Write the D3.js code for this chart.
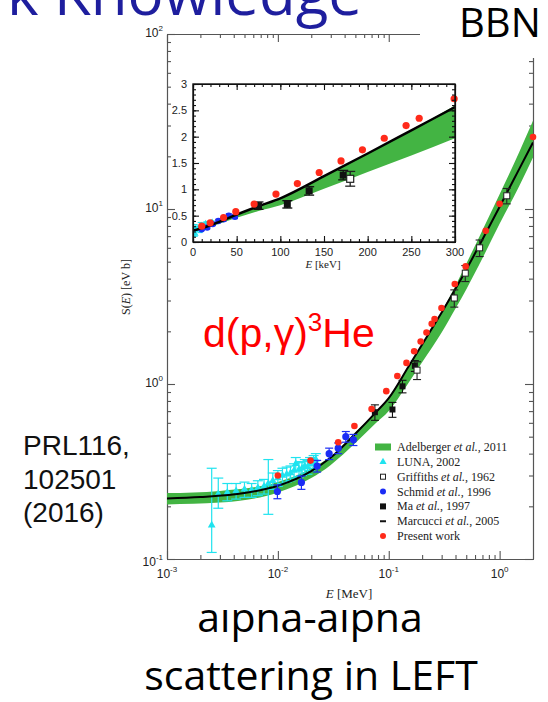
<!DOCTYPE html>
<html><head><meta charset="utf-8">
<script src="https://cdn.jsdelivr.net/npm/d3@7/dist/d3.min.js"></script>
<style>body{margin:0;background:#fff;} svg{display:block}</style>
</head><body>
<svg id="c" width="548" height="702"></svg>
<script>
// ---------------- DATA ----------------
// Marcucci et al. 2005 (black line), E in MeV, S in eV b
const lineE = [0.001,0.002,0.005,0.01,0.02,0.03,0.05,0.075,0.1,0.15,0.2,0.25,0.3,0.4,0.5,0.7,1.0,1.5,2.0];
const lineS = [0.222,0.226,0.238,0.262,0.318,0.38,0.52,0.68,0.83,1.25,1.68,2.12,2.56,3.5,4.5,6.7,10.3,16.9,24.0];
// Adelberger et al. 2011 (green band)
const bandE  = [0.001,0.003,0.01,0.02,0.03,0.05,0.075,0.1,0.15,0.2,0.3,0.4,0.5,0.7,1.0,1.5,2.0];
const bandLo = [0.205,0.21,0.24,0.29,0.345,0.46,0.59,0.70,1.01,1.33,1.97,2.70,3.47,5.23,8.24,13.5,19.7];
const bandHi = [0.238,0.245,0.275,0.33,0.385,0.53,0.68,0.84,1.26,1.69,2.59,3.64,4.86,7.57,12.15,21.1,31.9];
// Present work (red)
const redE = [0.010,0.0197,0.035,0.049,0.070,0.095,0.1195,0.1445,0.1695,0.194,0.219,0.244,0.259,0.299,0.394,0.494,0.75,1.0,2.0];
const redS = [0.30,0.365,0.465,0.575,0.72,0.91,1.11,1.32,1.54,1.75,1.97,2.21,2.35,2.72,3.73,4.7,7.5,10.7,25.8];
// LUNA 2002 (cyan)
const lunaE  = [0.00253,0.0029,0.0035,0.0042,0.0050,0.0058,0.0066,0.0075,0.0082,0.0090,0.0100,0.0110,0.0120,0.0130,0.0140,0.0145,0.0155,0.0165,0.0175,0.0185,0.0195,0.0210,0.0220];
const lunaS  = [0.156,0.235,0.24,0.245,0.25,0.248,0.255,0.26,0.27,0.28,0.29,0.30,0.305,0.31,0.32,0.35,0.325,0.33,0.34,0.335,0.35,0.36,0.37];
const lunaLo = [0.109,0.195,0.215,0.22,0.225,0.225,0.23,0.235,0.18,0.25,0.26,0.27,0.275,0.28,0.29,0.32,0.295,0.30,0.31,0.305,0.32,0.33,0.34];
const lunaHi = [0.33,0.29,0.27,0.27,0.275,0.27,0.28,0.285,0.37,0.31,0.32,0.33,0.335,0.34,0.35,0.38,0.355,0.36,0.37,0.365,0.38,0.39,0.40];
// Griffiths et al. 1962 (open squares)
const grifE = [0.18,0.39,0.49,0.66,1.16];
const grifS = [1.2,3.1,4.3,6.0,11.9];
const grifErr = [0.14,0.35,0.45,0.65,1.2];
// Schmid et al. 1996 (blue)
const schE = [0.0099,0.0163,0.0226,0.029,0.035,0.041,0.048];
const schS = [0.243,0.274,0.34,0.40,0.43,0.50,0.48];
const schErr = [0.022,0.024,0.026,0.03,0.03,0.035,0.035];
// Ma et al. 1997 (black squares)
const maE = [0.075,0.108,0.133,0.172];
const maS = [0.69,0.715,0.97,1.27];
const maErr = [0.07,0.07,0.08,0.09];
// Tick labels
const xExp = [-3,-2,-1,0];
const yExp = [-1,0,1,2];
const insetXTicks = [0,50,100,150,200,250,300];
const insetYTicks = [0,0.5,1,1.5,2,2.5,3];
const legendItems = [
  ["band","Adelberger ","et al.",", 2011"],
  ["tri","LUNA, 2002","",""],
  ["osq","Griffiths ","et al.",", 1962"],
  ["blue","Schmid ","et al.",", 1996"],
  ["bsq","Ma ","et al.",", 1997"],
  ["dash","Marcucci ","et al.",", 2005"],
  ["red","Present work","",""]
];

// ---------------- DRAW ----------------
const svg = d3.select("#c");
const SLIDE = "'Open Sans', 'Liberation Sans', sans-serif";
const SERIF = "'Liberation Serif', 'DejaVu Serif', serif";
const SANS = "'Liberation Sans', Arial, sans-serif";
const GREEN = "#43b443", CYAN = "#1fe3ef", BLUE = "#1b2cf5", RED = "#ff2a1a";

// slide text beneath chart image
svg.append("text").attr("x",310).attr("y",632).attr("text-anchor","middle")
  .style("font-family",SLIDE).style("font-size","41px").attr("fill","#000").text("alpha-alpha");
svg.append("text").attr("x",311).attr("y",690).attr("text-anchor","middle")
  .style("font-family",SLIDE).style("font-size","41px").attr("fill","#000").text("scattering in LEFT");

// chart image background
svg.append("rect").attr("x",118).attr("y",22).attr("width",430).attr("height",588).attr("fill","#fff");

// ---- main plot ----
const X = d3.scaleLog().domain([1e-3,2]).range([167,533]);
const Y = d3.scaleLog().domain([0.1,100]).range([559,34]);
const defs = svg.append("defs");
defs.append("clipPath").attr("id","mclip").append("rect")
  .attr("x",167).attr("y",34).attr("width",366).attr("height",525);

const minorX = [], minorY = [];
for (let d=-3; d<=0; d++) for (let k=2;k<=9;k++){ const v=k*Math.pow(10,d); if (v<2) minorX.push(v); }
for (let d=-1; d<=1; d++) for (let k=2;k<=9;k++){ minorY.push(k*Math.pow(10,d)); }
const majX = xExp.map(e=>Math.pow(10,e));
const majY = yExp.map(e=>Math.pow(10,e));

function styleAxis(g, col){ g.selectAll("path,line").attr("stroke",col).attr("stroke-width",1.1); g.selectAll("text").remove(); }
const AX = "#555";
[[d3.axisBottom,559,minorX,4],[d3.axisBottom,559,majX,8],[d3.axisTop,34,minorX,4],[d3.axisTop,34,majX,8]].forEach(([f,y,tv,s])=>{
  svg.append("g").attr("transform",`translate(0,${y})`).call(f(X).tickValues(tv).tickSize(-s).tickSizeOuter(0).tickFormat("")).call(g=>styleAxis(g,AX));
});
[[d3.axisLeft,167,minorY,4],[d3.axisLeft,167,majY,8],[d3.axisRight,533,minorY,4],[d3.axisRight,533,majY,8]].forEach(([f,x,tv,s])=>{
  svg.append("g").attr("transform",`translate(${x},0)`).call(f(Y).tickValues(tv).tickSize(-s).tickSizeOuter(0).tickFormat("")).call(g=>styleAxis(g,AX));
});

// tick labels
xExp.forEach(e=>{
  const t = svg.append("text").attr("x",X(Math.pow(10,e))).attr("y",578).attr("text-anchor","middle")
    .style("font-family",SANS).style("font-size","12px").attr("fill","#222");
  t.append("tspan").text("10");
  t.append("tspan").attr("dy",-6).style("font-size","8px").text(e);
});
yExp.forEach(e=>{
  const t = svg.append("text").attr("x",163).attr("y",Y(Math.pow(10,e))+ (e===-1?7:3)).attr("text-anchor","end")
    .style("font-family",SANS).style("font-size","12px").attr("fill","#222");
  t.append("tspan").text("10");
  t.append("tspan").attr("dy",-6).style("font-size","8px").text(e);
});
// axis titles
{
  const t = svg.append("text").attr("x",349).attr("y",598).attr("text-anchor","middle")
    .style("font-family",SERIF).style("font-size","13px").attr("fill","#222");
  t.append("tspan").style("font-style","italic").text("E");
  t.append("tspan").text(" [MeV]");
  const s = svg.append("text").attr("transform","translate(130,287) rotate(-90)").attr("text-anchor","middle")
    .style("font-family",SERIF).style("font-size","12px").attr("fill","#222");
  s.append("tspan").text("S(");
  s.append("tspan").style("font-style","italic").text("E");
  s.append("tspan").text(") [eV b]");
}

const mainG = svg.append("g").attr("clip-path","url(#mclip)");
const bandData = bandE.map((e,i)=>({e,lo:bandLo[i],hi:bandHi[i]}));
const lineData = lineE.map((e,i)=>({e,s:lineS[i]}));
mainG.append("path").datum(bandData).attr("fill",GREEN)
  .attr("d",d3.area().x(d=>X(d.e)).y0(d=>Y(d.lo)).y1(d=>Y(d.hi)).curve(d3.curveMonotoneX));

function errbars(g, xs, ys, lo, hi, xf, yf, col, cap, w){
  xs.forEach((e,i)=>{
    const x=xf(e), y0=yf(lo[i]), y1=yf(hi[i]);
    g.append("line").attr("x1",x).attr("x2",x).attr("y1",y0).attr("y2",y1).attr("stroke",col).attr("stroke-width",w);
    [y0,y1].forEach(y=>g.append("line").attr("x1",x-cap).attr("x2",x+cap).attr("y1",y).attr("y2",y).attr("stroke",col).attr("stroke-width",w));
  });
}
// LUNA
errbars(mainG, lunaE, lunaS, lunaLo, lunaHi, X, Y, CYAN, 5, 1.2);
const tri = d3.symbol().type(d3.symbolTriangle).size(26);
lunaE.forEach((e,i)=>mainG.append("path").attr("d",tri).attr("transform",`translate(${X(e)},${Y(lunaS[i])})`).attr("fill",CYAN));

// line
const mainLine = d3.line().x(d=>X(d.e)).y(d=>Y(d.s)).curve(d3.curveMonotoneX);
mainG.append("path").datum(lineData).attr("fill","none").attr("stroke","#000").attr("stroke-width",2).attr("d",mainLine);

// Schmid
errbars(svg, schE, schS, schS.map((s,i)=>s-schErr[i]), schS.map((s,i)=>s+schErr[i]), X, Y, BLUE, 4, 1.2);
schE.forEach((e,i)=>svg.append("circle").attr("cx",X(e)).attr("cy",Y(schS[i])).attr("r",3.6).attr("fill",BLUE));
// Ma
errbars(svg, maE, maS, maS.map((s,i)=>s-maErr[i]), maS.map((s,i)=>s+maErr[i]), X, Y, "#111", 4, 1.1);
maE.forEach((e,i)=>svg.append("rect").attr("x",X(e)-3).attr("y",Y(maS[i])-3).attr("width",6).attr("height",6).attr("fill","#111"));
// Griffiths
errbars(svg, grifE, grifS, grifS.map((s,i)=>s-grifErr[i]), grifS.map((s,i)=>s+grifErr[i]), X, Y, "#222", 4, 1.1);
grifE.forEach((e,i)=>svg.append("rect").attr("x",X(e)-3).attr("y",Y(grifS[i])-3).attr("width",6).attr("height",6).attr("fill","#fff").attr("stroke","#222").attr("stroke-width",1));
// Red
redE.forEach((e,i)=>svg.append("circle").attr("cx",X(e)).attr("cy",Y(redS[i])).attr("r",3.3).attr("fill",RED));

// legend
const LX = 383, LT = 397, LY0 = 447, LDY = 14.85;
legendItems.forEach((it,i)=>{
  const y = LY0 + i*LDY;
  const k = it[0];
  if (k==="band") svg.append("rect").attr("x",LX-8).attr("y",y-3.5).attr("width",16).attr("height",7).attr("fill",GREEN);
  if (k==="tri") svg.append("path").attr("d",d3.symbol().type(d3.symbolTriangle).size(22)).attr("transform",`translate(${LX},${y})`).attr("fill",CYAN);
  if (k==="osq") svg.append("rect").attr("x",LX-2.5).attr("y",y-2.5).attr("width",5).attr("height",5).attr("fill","#fff").attr("stroke","#222");
  if (k==="blue") svg.append("circle").attr("cx",LX).attr("cy",y).attr("r",3).attr("fill",BLUE);
  if (k==="bsq") svg.append("rect").attr("x",LX-3).attr("y",y-3).attr("width",6).attr("height",6).attr("fill","#111");
  if (k==="dash") svg.append("line").attr("x1",LX-3).attr("x2",LX+3).attr("y1",y).attr("y2",y).attr("stroke","#111").attr("stroke-width",2);
  if (k==="red") svg.append("circle").attr("cx",LX).attr("cy",y).attr("r",3).attr("fill",RED);
  const t = svg.append("text").attr("x",LT).attr("y",y+4).style("font-family",SERIF).style("font-size","12px").attr("fill","#222");
  t.append("tspan").text(it[1]);
  if (it[2]) t.append("tspan").style("font-style","italic").text(it[2]);
  if (it[3]) t.append("tspan").text(it[3]);
});

// ---- inset ----
const IX = d3.scaleLinear().domain([0,300]).range([193,455]);
const IY = d3.scaleLinear().domain([0,3]).range([242,84]);
svg.append("rect").attr("x",193).attr("y",84).attr("width",262).attr("height",158).attr("fill","#fff");
defs.append("clipPath").attr("id","iclip").append("rect").attr("x",193).attr("y",84).attr("width",262).attr("height",158);
const ig = svg.append("g").attr("clip-path","url(#iclip)");
const keV = e=>e*1000;
ig.append("path").datum(bandData).attr("fill",GREEN)
  .attr("d",d3.area().x(d=>IX(keV(d.e))).y0(d=>IY(d.lo)).y1(d=>IY(d.hi)).curve(d3.curveMonotoneX));
errbars(ig, lunaE.map(keV), lunaS, lunaLo, lunaHi, IX, IY, CYAN, 2.5, 1.2);
lunaE.forEach((e,i)=>ig.append("path").attr("d",d3.symbol().type(d3.symbolTriangle).size(20)).attr("transform",`translate(${IX(keV(e))},${IY(lunaS[i])})`).attr("fill",CYAN));
errbars(ig, schE.map(keV), schS, schS.map((s,i)=>s-schErr[i]), schS.map((s,i)=>s+schErr[i]), IX, IY, BLUE, 3, 1.2);
schE.forEach((e,i)=>ig.append("circle").attr("cx",IX(keV(e))).attr("cy",IY(schS[i])).attr("r",3.2).attr("fill",BLUE));
ig.append("path").datum(lineData.filter(d=>d.e<=0.31)).attr("fill","none").attr("stroke","#000").attr("stroke-width",2.4)
  .attr("d",d3.line().x(d=>IX(keV(d.e))).y(d=>IY(d.s)).curve(d3.curveMonotoneX));
const im = maE.map(keV);
errbars(ig, im, maS, maS.map((s,i)=>s-maErr[i]), maS.map((s,i)=>s+maErr[i]), IX, IY, "#111", 5, 1.3);
im.forEach((e,i)=>ig.append("rect").attr("x",IX(e)-3.5).attr("y",IY(maS[i])-3.5).attr("width",7).attr("height",7).attr("fill","#111"));
const igr = grifE.filter(e=>e<=0.3);
errbars(ig, igr.map(keV), grifS, grifS.map((s,i)=>s-grifErr[i]), grifS.map((s,i)=>s+grifErr[i]), IX, IY, "#222", 5, 1.3);
igr.forEach((e,i)=>ig.append("rect").attr("x",IX(keV(e))-3.5).attr("y",IY(grifS[i])-3.5).attr("width",7).attr("height",7).attr("fill","#fff").attr("stroke","#222").attr("stroke-width",1.2));
redE.filter(e=>e<=0.3).forEach((e,i)=>svg.append("circle").attr("cx",IX(keV(e))).attr("cy",IY(redS[i])).attr("r",3.6).attr("fill",RED));

// inset axes
const imx = d3.range(0,301,10), imy = d3.range(0,31,1).map(v=>v/10);
[[d3.axisBottom,242,imx,3],[d3.axisBottom,242,insetXTicks,6],[d3.axisTop,84,imx,3],[d3.axisTop,84,insetXTicks,6]].forEach(([f,y,tv,s])=>{
  svg.append("g").attr("transform",`translate(0,${y})`).call(f(IX).tickValues(tv).tickSize(-s).tickSizeOuter(0).tickFormat("")).call(g=>styleAxis(g,"#111"));
});
[[d3.axisLeft,193,imy,3],[d3.axisLeft,193,insetYTicks,6],[d3.axisRight,455,imy,3],[d3.axisRight,455,insetYTicks,6]].forEach(([f,x,tv,s])=>{
  svg.append("g").attr("transform",`translate(${x},0)`).call(f(IY).tickValues(tv).tickSize(-s).tickSizeOuter(0).tickFormat("")).call(g=>styleAxis(g,"#111"));
});
svg.append("rect").attr("x",193).attr("y",84).attr("width",262).attr("height",158).attr("fill","none").attr("stroke","#111").attr("stroke-width",1.4);
insetXTicks.forEach(v=>svg.append("text").attr("x",IX(v)).attr("y",256).attr("text-anchor","middle")
  .style("font-family",SANS).style("font-size","11px").attr("fill","#222").text(v));
insetYTicks.forEach(v=>svg.append("text").attr("x",187).attr("y",IY(v)+4).attr("text-anchor","end")
  .style("font-family",SANS).style("font-size","11px").attr("fill","#222").text(v));
{
  const t = svg.append("text").attr("x",323).attr("y",268).attr("text-anchor","middle")
    .style("font-family",SERIF).style("font-size","11px").attr("fill","#222");
  t.append("tspan").style("font-style","italic").text("E");
  t.append("tspan").text(" [keV]");
}

// reaction label
{
  const t = svg.append("text").attr("x",203).attr("y",347).style("font-family",SANS).style("font-size","41px").attr("fill","#ff0000");
  t.append("tspan").text("d(p,γ)");
  t.append("tspan").attr("dy",-16).style("font-size","26px").text("3");
  t.append("tspan").attr("dy",16).text("He");
}

// PRL reference
["PRL116,","102501","(2016)"].forEach((s,i)=>svg.append("text").attr("x",23).attr("y",455+i*33.5)
  .style("font-family",SANS).style("font-size","28px").attr("fill","#111").text(s));

// BBN box
svg.append("rect").attr("x",420).attr("y",0).attr("width",128).attr("height",58).attr("fill","#fff");
svg.append("text").attr("x",459).attr("y",37).style("font-family",SLIDE).style("font-size","40px").attr("fill","#000").text("BBN");

// slide title (cut at top)
svg.append("text").attr("x",362).attr("y",15).attr("text-anchor","end")
  .style("font-family",SLIDE).style("font-size","60px").attr("fill","#1e1e9e").text("k Knowledge");
</script>
</body></html>
